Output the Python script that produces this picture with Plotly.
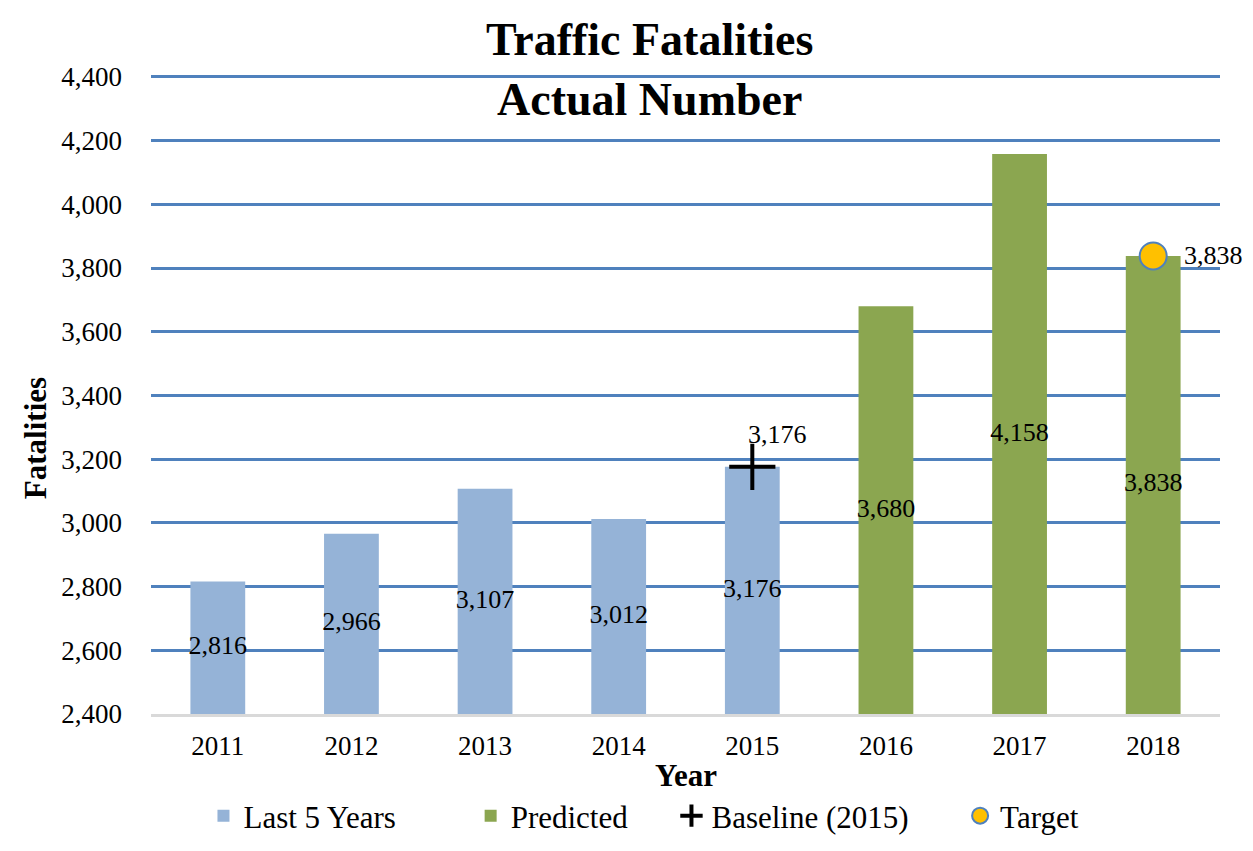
import plotly.graph_objects as go

# ----------------------------
# Data
# ----------------------------
past_years = ["2011", "2012", "2013", "2014", "2015"]
past_values = [2816, 2966, 3107, 3012, 3176]

pred_years = ["2016", "2017", "2018"]
pred_values = [3680, 4158, 3838]

baseline_year = ["2015"]
baseline_value = [3176]

target_year = ["2018"]
target_value = [3838]

y_min, y_max, y_step = 2400, 4400, 200

SERIF = "Times New Roman, Liberation Serif, serif"
BLUE_BAR = "#95B3D7"
GREEN_BAR = "#8BA650"
GRID = "#4F81BD"
NB = "\u00a0"


def fmt(v):
    return f"{v:,}"


all_years = past_years + pred_years
all_values = past_values + pred_values

fig = go.Figure()

fig.add_trace(go.Bar(
    x=past_years, y=past_values, name="Last 5 Years" + NB * 9,
    marker=dict(color=BLUE_BAR, line=dict(width=0)), width=0.41,
))
fig.add_trace(go.Bar(
    x=pred_years, y=pred_values, name="Predicted" + NB * 5,
    marker=dict(color=GREEN_BAR, line=dict(width=0)), width=0.41,
))

# value labels in the middle of the visible part of each bar
fig.add_trace(go.Scatter(
    x=all_years, y=[(v + y_min) / 2 for v in all_values],
    mode="text", text=[fmt(v) for v in all_values],
    textfont=dict(family=SERIF, size=26, color="black"),
    showlegend=False, hoverinfo="skip", cliponaxis=False,
))

fig.add_trace(go.Scatter(
    x=baseline_year, y=baseline_value, name="Baseline (2015)" + NB * 6,
    mode="markers",
    marker=dict(symbol="cross-thin", size=33, line=dict(width=4, color="black"), color="black"),
    cliponaxis=False,
))

fig.add_trace(go.Scatter(
    x=target_year, y=target_value, name="Target",
    mode="markers",
    marker=dict(symbol="circle", size=27, color="#FFC000", line=dict(width=2, color=GRID)),
    cliponaxis=False,
))

# marker labels (category axis -> annotation x is the category index)
for xv, yv in zip(baseline_year, baseline_value):
    fig.add_annotation(
        x=all_years.index(xv), y=yv, text=fmt(yv), showarrow=False,
        xanchor="left", yanchor="middle", xshift=-6, yshift=32,
        font=dict(family=SERIF, size=26, color="black"),
    )
for xv, yv in zip(target_year, target_value):
    fig.add_annotation(
        x=all_years.index(xv), y=yv, text=fmt(yv), showarrow=False,
        xanchor="left", yanchor="middle", xshift=29, yshift=0,
        font=dict(family=SERIF, size=26, color="black"),
    )

fig.update_layout(
    width=1245, height=843,
    paper_bgcolor="white", plot_bgcolor="white",
    font=dict(family=SERIF, color="black", size=26),
    barmode="overlay",
    margin=dict(l=143, r=33, t=67, b=137),
    xaxis=dict(
        type="category", categoryorder="array", categoryarray=all_years,
        range=[-0.5, len(all_years) - 0.5], showgrid=False,
        showline=True, linecolor="#D9D9D9", linewidth=2.5,
        ticks="", ticklabelstandoff=6,
        tickfont=dict(family=SERIF, size=27, color="black"),
    ),
    yaxis=dict(
        # a few units of headroom so the top gridline is not clipped at the edge
        range=[y_min, y_max + 6], dtick=y_step, tick0=y_min,
        tickformat=",d", showgrid=True, gridcolor=GRID, gridwidth=2.5,
        zeroline=False, showline=False, ticks="", ticklabelstandoff=28,
        tickfont=dict(family=SERIF, size=27, color="black"),
    ),
    legend=dict(
        orientation="h", xref="container", yref="container",
        x=0.157, xanchor="left", y=0.0415, yanchor="middle",
        font=dict(family=SERIF, size=31, color="black"),
        bgcolor="rgba(0,0,0,0)",
    ),
    showlegend=True,
)

# title
fig.add_annotation(
    text="<b>Traffic Fatalities<br>Actual Number</b>",
    xref="paper", yref="paper", x=0.4659, y=1.008,
    xanchor="center", yanchor="middle", showarrow=False,
    font=dict(family=SERIF, size=46, color="black"),
)

# axis titles
fig.add_annotation(
    text="<b>Fatalities</b>", textangle=-90,
    xref="paper", yref="paper", x=-0.1085, y=0.4317,
    xanchor="center", yanchor="middle", showarrow=False,
    font=dict(family=SERIF, size=31, color="black"),
)
fig.add_annotation(
    text="<b>Year</b>",
    xref="paper", yref="paper", x=0.5, y=-0.0958,
    xanchor="center", yanchor="middle", showarrow=False,
    font=dict(family=SERIF, size=31, color="black"),
)

# chart frame (left/top edges visible in the original crop)
fig.add_shape(
    type="rect", xref="paper", yref="paper",
    x0=-0.1347, x1=1.1, y0=-0.25, y1=1.1099,
    line=dict(color="#D9D9D9", width=2), layer="below",
)

fig.write_html("out.html")
